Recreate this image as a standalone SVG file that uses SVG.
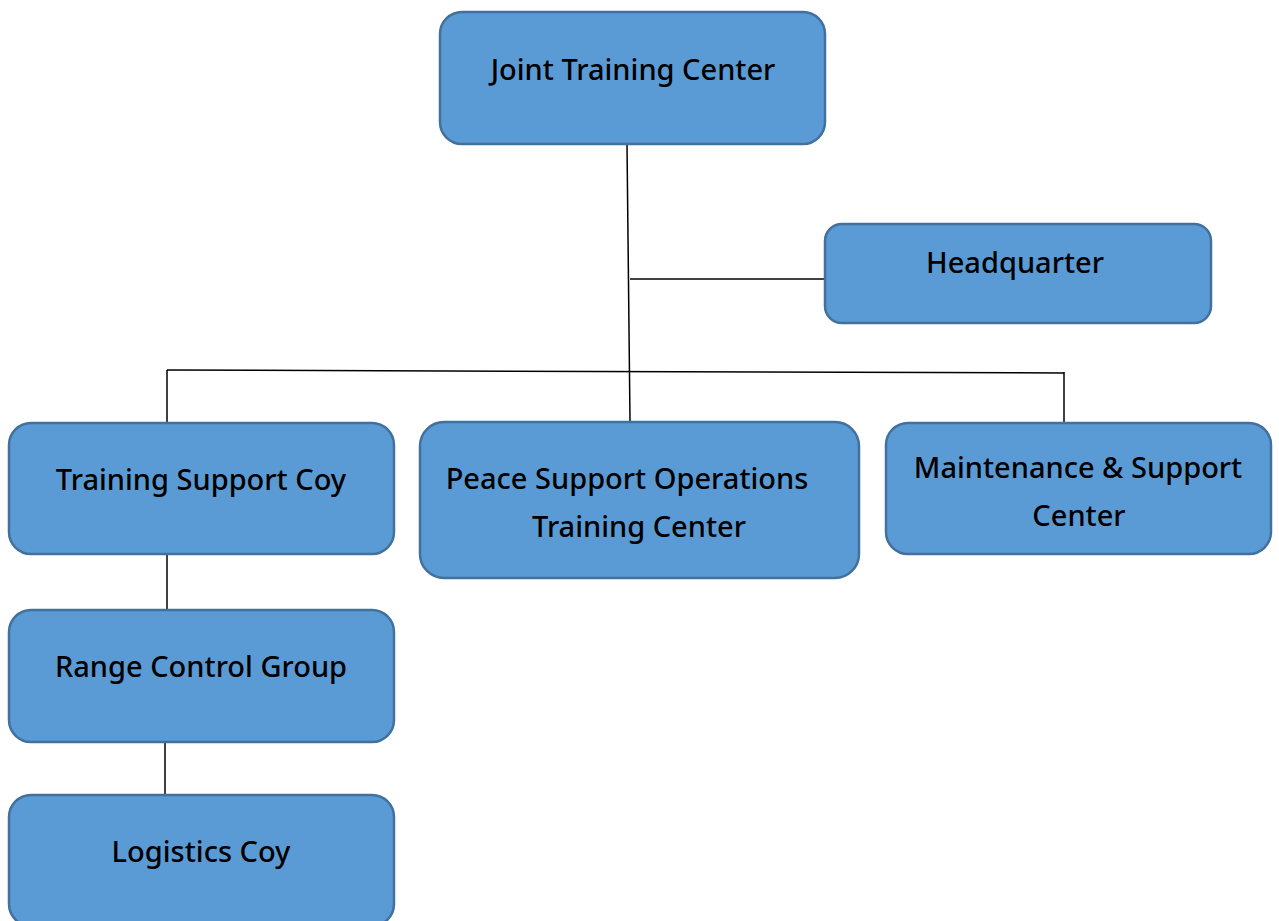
<svg xmlns="http://www.w3.org/2000/svg" width="1279" height="921" viewBox="0 0 1279 921">
<style>
.box{fill:#5B9BD5;stroke:#41719C;stroke-width:2.5}
.lbl{font-family:"Noto Sans","Open Sans",sans-serif;font-size:29px;font-weight:500;fill:#000;text-anchor:middle}
.conn line{stroke:#000;stroke-width:1.5}
</style>
<rect width="1279" height="921" fill="#fff"/>
<g class="conn" id="connectors">
<line x1="627" y1="144" x2="630" y2="421"/>
<line x1="630" y1="279" x2="825" y2="279"/>
<line x1="167" y1="370" x2="1064" y2="373"/>
<line x1="167" y1="370" x2="167" y2="423"/>
<line x1="1064" y1="372" x2="1064" y2="423"/>
<line x1="167" y1="554" x2="167" y2="610"/>
<line x1="165" y1="742" x2="165" y2="795"/>
</g>
<g id="jtc"><rect class="box" x="440" y="12" width="385" height="132" rx="22"/><text class="lbl" x="633" y="80">Joint Training Center</text></g>
<g id="hq"><rect class="box" x="825" y="224" width="386" height="99" rx="17"/><text class="lbl" x="1015" y="273">Headquarter</text></g>
<g id="tsc"><rect class="box" x="9" y="423" width="385" height="131" rx="22"/><text class="lbl" x="201" y="490">Training Support Coy</text></g>
<g id="psotc"><rect class="box" x="420" y="422" width="439" height="156" rx="24"/><text class="lbl" x="627" y="489">Peace Support Operations</text><text class="lbl" x="639" y="537">Training Center</text></g>
<g id="msc"><rect class="box" x="886" y="423" width="385" height="131" rx="22"/><text class="lbl" x="1078" y="478">Maintenance &amp; Support</text><text class="lbl" x="1079" y="526">Center</text></g>
<g id="rcg"><rect class="box" x="9" y="610" width="385" height="132" rx="22"/><text class="lbl" x="201" y="677">Range Control Group</text></g>
<g id="lc"><rect class="box" x="9" y="795" width="385" height="131" rx="22"/><text class="lbl" x="201" y="862">Logistics Coy</text></g>
</svg>
